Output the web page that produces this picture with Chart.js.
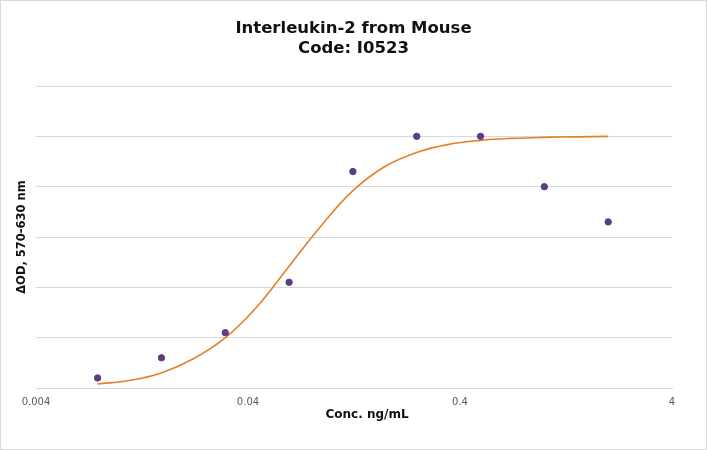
<!DOCTYPE html>
<html>
<head>
<meta charset="utf-8">
<title>Interleukin-2 from Mouse</title>
<script src="https://cdn.jsdelivr.net/npm/chart.js@4.4.0/dist/chart.umd.min.js"></script>
<style>
  html, body { margin: 0; padding: 0; background: #fff; }
  #wrap {
    width: 707px; height: 450px;
    box-sizing: border-box;
    border: 1px solid #d9d9d9;
    position: relative;
  }
</style>
</head>
<body>
<div id="wrap"><canvas id="chart"></canvas></div>
<script>
// dilution series (ng/mL) and measured ΔOD
const concentrations = [0.0078125, 0.015625, 0.03125, 0.0625, 0.125, 0.25, 0.5, 1, 2];
const measuredOD = [0.04, 0.12, 0.22, 0.42, 0.86, 1.0, 1.0, 0.8, 0.66];

// fitted curve
const fitConc = [0.0078, 0.011, 0.0156, 0.0221, 0.0313, 0.0442, 0.0625, 0.0884, 0.125,
                 0.177, 0.25, 0.354, 0.5, 0.707, 1, 1.41, 2];
const fitOD = [0.016, 0.03, 0.06, 0.116, 0.2, 0.324, 0.484, 0.644, 0.784,
               0.88, 0.936, 0.968, 0.984, 0.992, 0.996, 0.998, 1.0];

const xTicks = [0.004, 0.04, 0.4, 4];
const titleLines = ['Interleukin-2 from Mouse', 'Code: I0523'];
const xTitle = 'Conc. ng/mL';
const yTitle = 'ΔOD, 570-630 nm';

// x axis title sits a bit right of centre in the original, so draw it by hand
const xTitlePlugin = {
    id: 'xTitle',
    afterDraw(chart) {
        const ctx = chart.ctx;
        const area = chart.chartArea;
        ctx.save();
        ctx.font = 'bold 12px "DejaVu Sans"';
        ctx.fillStyle = '#111';
        ctx.textAlign = 'center';
        ctx.textBaseline = 'middle';
        ctx.fillText(xTitle, (area.left + area.right) / 2 + 13, area.bottom + 27);
        ctx.restore();
    }
};

const ctx = document.getElementById('chart').getContext('2d');
new Chart(ctx, {
    type: 'scatter',
    data: {
        datasets: [{
            label: 'Measured',
            data: concentrations.map((c, i) => ({ x: c, y: measuredOD[i] })),
            backgroundColor: '#5e3c83',
            borderColor: '#5e3c83',
            pointRadius: 3.2,
            pointHoverRadius: 3.2
        }, {
            label: 'Fit',
            data: fitConc.map((c, i) => ({ x: c, y: fitOD[i] })),
            showLine: true,
            borderColor: '#e37f2b',
            borderWidth: 1.6,
            pointRadius: 0,
            tension: 0.4,
            fill: false
        }]
    },
    options: {
        responsive: true,
        maintainAspectRatio: false,
        animation: false,
        layout: { padding: 0 },
        plugins: {
            legend: { display: false },
            tooltip: { enabled: false },
            title: {
                display: true,
                text: titleLines,
                color: '#111',
                font: { family: '"DejaVu Sans"', size: 16.5, weight: 'bold', lineHeight: 1.2 },
                padding: { top: 18, bottom: 27.4 }
            }
        },
        scales: {
            x: {
                type: 'logarithmic',
                min: 0.004,
                max: 4,
                afterBuildTicks: (scale) => {
                    scale.ticks = xTicks.map(v => ({ value: v }));
                },
                afterFit: (scale) => { scale.height = 61; },
                ticks: {
                    color: '#595959',
                    font: { family: '"DejaVu Sans"', size: 10 },
                    padding: 8,
                    maxRotation: 0,
                    callback: (v) => String(v)
                },
                grid: { display: false, drawTicks: false },
                border: { display: true, color: '#d9d9d9' }
            },
            y: {
                min: 0,
                max: 1.2,
                afterFit: (scale) => { scale.width = 35; },
                ticks: { display: false, stepSize: 0.2 },
                grid: { color: '#d9d9d9', drawTicks: false },
                border: { display: false },
                title: {
                    display: true,
                    text: yTitle,
                    color: '#111',
                    font: { family: '"DejaVu Sans"', size: 11.5, weight: 'bold' },
                    padding: { top: 14.5, bottom: 0 }
                }
            },
            // empty right axis, only to keep the plot clear of the right edge
            yRight: {
                position: 'right',
                min: 0,
                max: 1.2,
                afterFit: (scale) => { scale.width = 34; },
                ticks: { display: false },
                grid: { display: false, drawTicks: false },
                border: { display: false }
            }
        }
    },
    plugins: [xTitlePlugin]
});
</script>
</body>
</html>
